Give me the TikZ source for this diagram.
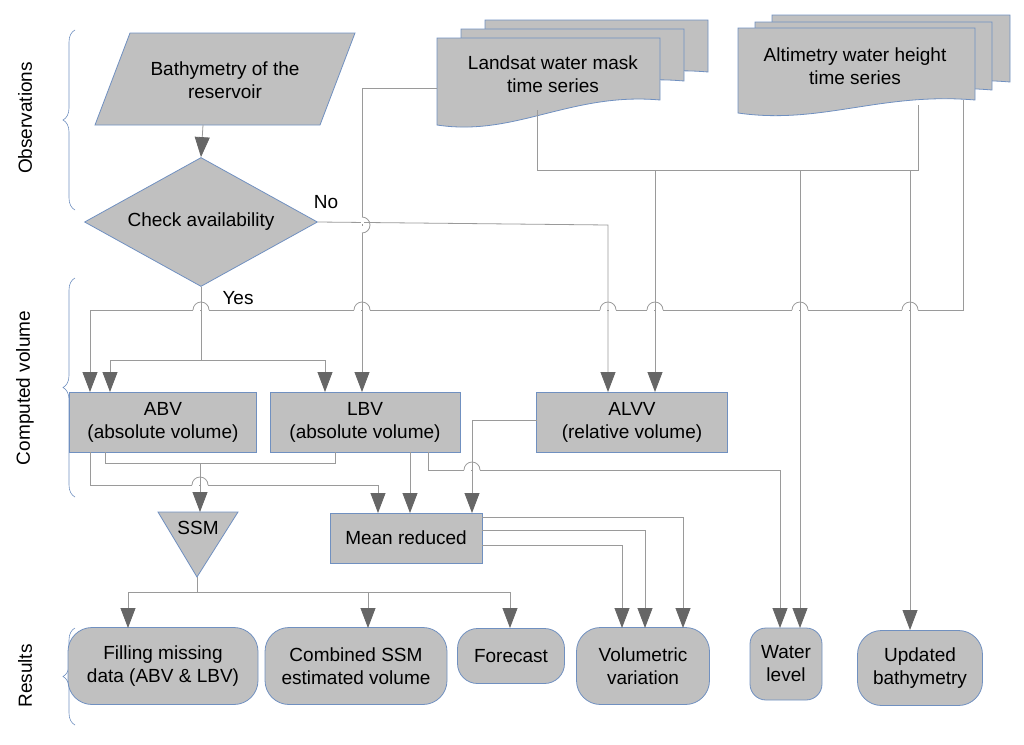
\documentclass[tikz,border=0pt]{standalone}
\usepackage{fontspec}
\setmainfont{Liberation Sans}
\usetikzlibrary{shapes.geometric}
\usetikzlibrary{arrows.meta}
\usetikzlibrary{decorations.pathreplacing}
\definecolor{shade}{HTML}{C0C0C0}
\definecolor{bord}{HTML}{7090C0}
\definecolor{wirec}{HTML}{9A9A9A}
\definecolor{tipc}{HTML}{666666}
\tikzset{
  shp/.style={draw=bord,fill=shade,line width=0.8pt},
  box/.style={shp,rectangle,align=center,font=\fontsize{19}{23}\selectfont},
  res/.style={box,rounded corners=24pt},
  txt/.style={align=center,font=\fontsize{19}{23}\selectfont},
  wire/.style={draw=wirec,line width=0.8pt},
  arr/.style={wire,-{Triangle[length=20pt,width=15pt,color=tipc]}},
  side/.style={font=\fontsize{19}{23}\selectfont,rotate=90},
  brc/.style={draw=bord,line width=0.6pt,decorate,decoration={brace,amplitude=12pt}}
}
% jump of a horizontal wire over a vertical one
\newcommand\hop[2]{%
  \fill[white] (#1-8,#2-1.5) rectangle (#1-1,#2+1.5);
  \fill[white] (#1+1,#2-1.5) rectangle (#1+8,#2+1.5);
  \draw[wire] (#1-8,#2) arc[start angle=180,end angle=360,radius=8];}
\newcommand\vhop[2]{%
  \fill[white] (#1-1.5,#2-8) rectangle (#1+1.5,#2-1);
  \fill[white] (#1-1.5,#2+1) rectangle (#1+1.5,#2+8);
  \draw[wire] (#1,#2-8) arc[start angle=-90,end angle=90,radius=8];}
\newcommand\wavedoc[5]{% x0 x1 top left-bottom right-bottom
  \path[shp] (#1,#3) -- (#2,#3) -- (#2,#5)
    .. controls ({#1+0.6*(#2-#1)},#5-8) and ({#1+0.35*(#2-#1)},#4+12) .. (#1,#4) -- cycle;}
\begin{document}
\begin{tikzpicture}[x=1pt,y=-1pt]
  \useasboundingbox (0,0) rectangle (1024,744);
  % side labels
  \draw[brc] (75,210) -- (75,30);
  \draw[brc] (75,497) -- (75,278);
  \draw[brc] (75,725) -- (75,628);
  \node[side] (lobs) at (25,118) {Observations};
  \node[side] (lcomp) at (25,388) {Computed volume};
  \node[side] (lres) at (25,676) {Results};

  % observations
  \path[shp] (130,33) -- (355,33) -- (320,125) -- (95,125) -- cycle;
  \node[txt] (bath) at (225,80) {Bathymetry of the\\reservoir};
  \wavedoc{485}{708}{20}{88}{72}
  \wavedoc{461}{684}{29}{97}{81}
  \wavedoc{437}{660}{38}{125}{100}
  \node[txt] (land) at (553,74) {Landsat water mask\\time series};
  \wavedoc{772}{1010}{15}{90}{82}
  \wavedoc{755}{992}{22}{98}{90}
  \wavedoc{738}{975}{28}{113}{100}
  \node[txt] (alt) at (855,66) {Altimetry water height\\time series};
  \node[shp,diamond,aspect=1.8,minimum width=233pt,minimum height=129pt,inner sep=0pt] (check) at (201,222) {};
  \node[txt] at (check) {Check availability};
  \node[txt] (no) at (326,202) {No};
  \node[txt] (yes) at (238,298) {Yes};

  % computed volume
  \node[box,minimum width=187pt,minimum height=60pt] (abv) at (163,422) {ABV\\(absolute volume)};
  \node[box,minimum width=190pt,minimum height=60pt] (lbv) at (365,422) {LBV\\(absolute volume)};
  \node[box,minimum width=191pt,minimum height=60pt] (alvv) at (632,422) {ALVV\\(relative volume)};
  \node[box,minimum width=152pt,minimum height=50pt] (mean) at (406,538) {Mean reduced};
  \path[shp] (158,512) -- (238,512) -- (197,577) -- cycle;
  \node[txt] (ssm) at (198,528) {SSM};

  % results
  \node[res,minimum width=190pt,minimum height=77pt] (fill) at (163,666) {Filling missing\\data (ABV \& LBV)};
  \node[res,minimum width=182pt,minimum height=77pt] (comb) at (356,666) {Combined SSM\\estimated volume};
  \node[res,minimum width=107pt,minimum height=55pt,rounded corners=20pt] (fore) at (511,656) {Forecast};
  \node[res,minimum width=133pt,minimum height=77pt] (vol) at (643,666) {Volumetric\\variation};
  \node[res,minimum width=72pt,minimum height=72pt,rounded corners=16pt] (wat) at (786,664) {Water\\level};
  \node[res,minimum width=125pt,minimum height=75pt] (upd) at (920,668) {Updated\\bathymetry};

  % connectors
  \draw[arr] (203,125) -- (check.north);
  \draw[wire] (check.south) -- (201,360);
  \draw[wire] (110,360) -- (325,360);
  \draw[arr] (110,360) -- (110,392);
  \draw[arr] (325,360) -- (325,392);
  \draw[arr] (check.east) -- (608,225) -- (608,392);
  \draw[arr] (437,88) -- (362,88) -- (362,392);
  \vhop{362}{225}
  \draw[wire] (537,110) -- (537,170) -- (918,170) -- (918,105);
  \draw[arr] (655,170) -- (655,392);
  \draw[arr] (800,170) -- (800,628);
  \draw[arr] (910,170) -- (910,630);
  \draw[arr] (963,100) -- (963,310) -- (90,310) -- (90,392);
  \foreach \x in {201,362,608,655,800,910} {\hop{\x}{310}}
  \draw[arr] (90,452) -- (90,485) -- (378,485) -- (378,513);
  \draw[wire] (105,452) -- (105,463) -- (335,463) -- (335,452);
  \draw[arr] (200,463) -- (200,512);
  \hop{200}{485}
  \draw[arr] (410,452) -- (410,513);
  \draw[arr] (428,452) -- (428,470) -- (780,470) -- (780,628);
  \draw[arr] (537,420) -- (472,420) -- (472,513);
  \hop{472}{470}
  \draw[arr] (482,517) -- (683,517) -- (683,628);
  \draw[arr] (482,530) -- (645,530) -- (645,628);
  \draw[arr] (482,545) -- (622,545) -- (622,628);
  \draw[wire] (197,577) -- (197,592);
  \draw[wire] (128,592) -- (510,592);
  \draw[arr] (128,592) -- (128,628);
  \draw[arr] (368,592) -- (368,628);
  \draw[arr] (510,592) -- (510,628);
\end{tikzpicture}
\end{document}
